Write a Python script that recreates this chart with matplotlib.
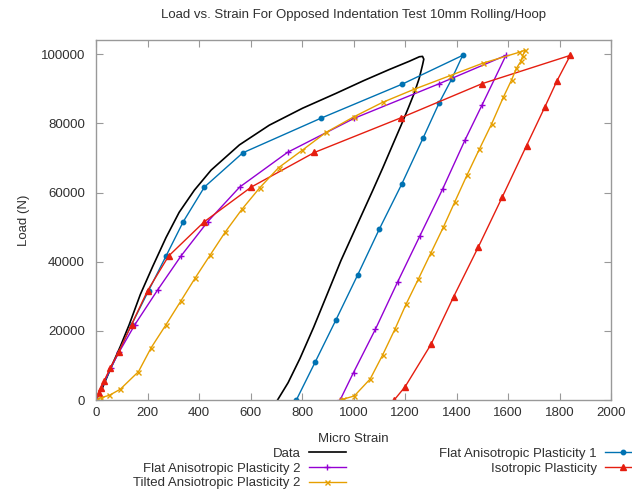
import matplotlib
matplotlib.use("Agg")
import matplotlib.pyplot as plt

# values (micro strain, load N)
data_strain = [0, 25, 58, 95, 129, 172, 220, 272, 323, 382, 447, 557, 673, 802, 932, 1040, 1139, 1217, 1256, 1268, 1273,
               1268, 1255, 1236, 1213, 1185, 1152, 1114, 1074, 1013, 951, 900, 845, 792, 746, 705]
data_load = [0, 3500, 9350, 15600, 21800, 30500, 38600, 47000, 54300, 60700, 66500, 73800, 79500, 84400, 88700, 92400, 95600, 98000, 99300, 99400, 98600,
             96900, 93000, 88800, 84500, 79500, 73800, 67200, 60500, 50500, 40300, 31000, 21000, 12000, 5000, 0]

flat1_strain = [0, 138, 204, 272, 339, 421, 570, 873, 1190, 1424,
                1381, 1333, 1271, 1187, 1100, 1017, 932, 852, 778]
flat1_load = [0, 21800, 31600, 41650, 51600, 61600, 71500, 81500, 91400, 99700,
              92800, 86000, 75900, 62400, 49400, 36300, 23200, 11100, 0]

flat2_strain = [0, 57, 90, 151, 239, 330, 434, 558, 744, 1003, 1333, 1592,
                1499, 1433, 1346, 1258, 1171, 1085, 1000, 948]
flat2_load = [0, 9350, 13900, 21800, 31800, 41650, 51600, 61600, 71650, 81500, 91500, 99700,
              85300, 75200, 61000, 47500, 34100, 20450, 7950, 0]

iso_strain = [0, 10, 19, 32, 56, 88, 138, 200, 282, 421, 603, 848, 1183, 1499, 1842,
              1790, 1744, 1672, 1577, 1485, 1389, 1301, 1201, 1158]
iso_load = [0, 2100, 3560, 5600, 9350, 13900, 21800, 31600, 41650, 51600, 61600, 71600, 81600, 91500, 99700,
            92300, 84900, 73600, 58600, 44300, 29900, 16100, 3900, 0]

tilt_strain = [0, 19, 52, 94, 165, 214, 272, 330, 386, 443, 502, 567, 636, 709, 800, 893, 1001, 1113, 1236, 1374,
               1501, 1644, 1667,
               1657, 1650, 1633, 1614, 1582, 1536, 1489, 1441, 1394, 1349, 1301, 1252, 1204, 1161, 1113, 1065, 1003, 958, 951]
tilt_load = [0, 670, 1360, 3100, 8200, 15100, 21800, 28700, 35400, 41900, 48600, 55200, 61400, 67200, 72200, 77400, 81900, 86100, 89900, 93800,
             97400, 100600, 101200,
             99600, 98000, 96000, 92600, 87600, 79800, 72600, 65100, 57400, 50000, 42600, 35000, 27700, 20500, 13000, 6100, 1160, 200, 0]

x_ticks = list(range(0, 2001, 200))
y_ticks = list(range(0, 100001, 20000))

plt.rcParams["font.family"] = ["Liberation Sans", "DejaVu Sans"]
plt.rcParams["font.size"] = 9.5
text_color = "#303030"
frame_color = "#999999"

fig = plt.figure(figsize=(6.32, 4.90), dpi=100)
ax = fig.add_axes([96 / 632, 1 - 400 / 490, 515 / 632, 360 / 490])

ax.plot(data_strain, data_load, color="black", lw=1.2, label="Data")
ax.plot(flat1_strain, flat1_load, color="#0072B2", lw=1.0, marker="o", ms=3.2, label="Flat Anisotropic Plasticity 1")
ax.plot(flat2_strain, flat2_load, color="#9400D3", lw=1.0, marker="+", ms=4.0, mew=1.0, label="Flat Anisotropic Plasticity 2")
ax.plot(iso_strain, iso_load, color="#E51E10", lw=1.0, marker="^", ms=3.8, label="Isotropic Plasticity")
ax.plot(tilt_strain, tilt_load, color="#E69F00", lw=1.0, marker="x", ms=3.6, mew=1.0, label="Tilted Ansiotropic Plasticity 2")

ax.set_xlim(0, 2000)
ax.set_ylim(0, 104140)
ax.set_xticks(x_ticks)
ax.set_yticks(y_ticks)
ax.tick_params(direction="in", length=5, width=0.8, color=frame_color, labelcolor=text_color,
               top=True, right=True, labelsize=9.5)
ax.tick_params(axis="x", pad=5)
ax.tick_params(axis="y", pad=8)
for sp in ax.spines.values():
    sp.set_color(frame_color)
    sp.set_linewidth(1.0)

ax.set_title("Load vs. Strain For Opposed Indentation Test 10mm Rolling/Hoop", fontsize=9.5, color=text_color, pad=16)
ax.set_xlabel("Micro Strain", color=text_color)
ax.xaxis.set_label_coords(0.5, -0.091)
ax.set_ylabel("Load (N)", color=text_color)
ax.yaxis.set_label_coords(-0.129, 0.5)

# gnuplot-style key: two columns under the plot, text left of the sample
handles, labels = ax.get_legend_handles_labels()
left_idx = [0, 2, 4]
right_idx = [1, 3]
common = dict(frameon=False, markerfirst=False, numpoints=1, handlelength=2.83, handletextpad=0.6,
              labelspacing=0.2, borderpad=0, borderaxespad=0, fontsize=9.5, labelcolor=text_color)
leg1 = fig.legend([handles[i] for i in left_idx], [labels[i] for i in left_idx],
                  loc="upper right", bbox_to_anchor=(346 / 632, 1 - 447.5 / 490), **common)
leg2 = fig.legend([handles[i] for i in right_idx], [labels[i] for i in right_idx],
                  loc="upper right", bbox_to_anchor=(642 / 632, 1 - 447.5 / 490), **common)

fig.savefig("out.png", dpi=100)
